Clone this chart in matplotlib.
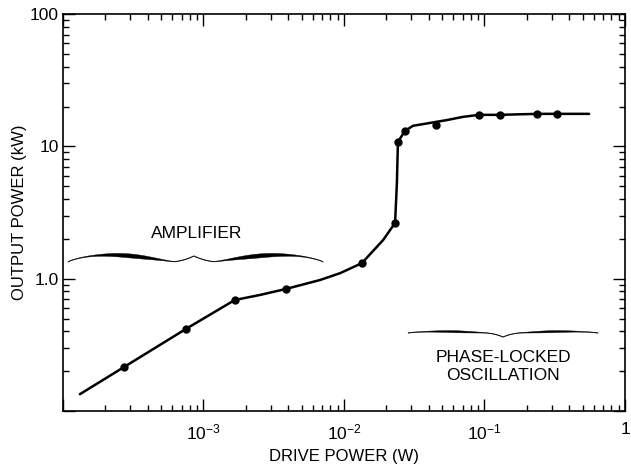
import numpy as np
import matplotlib.pyplot as plt
from matplotlib.ticker import FixedLocator, LogLocator, NullFormatter

plt.rcParams['font.family'] = ['Liberation Sans', 'DejaVu Sans']
plt.rcParams['mathtext.fontset'] = 'custom'
plt.rcParams['mathtext.rm'] = 'Liberation Sans'
plt.rcParams['mathtext.default'] = 'regular'

# measured points
drive_w = [2.72e-4, 7.5e-4, 1.67e-3, 3.86e-3, 0.0134, 0.0231, 0.0242,
           0.0272, 0.0452, 0.0914, 0.129, 0.237, 0.328]
output_kw = [0.215, 0.417, 0.690, 0.836, 1.31, 2.64, 10.8,
             13.1, 14.5, 17.3, 17.3, 17.6, 17.6]

# faired curve through the data
curve_w = [1.32e-4, 2.72e-4, 7.5e-4, 1.67e-3, 2.52e-3, 3.86e-3, 6.75e-3,
           9.37e-3, 0.0134, 0.0190, 0.0231, 0.0238, 0.0242, 0.0272, 0.0310,
           0.0541, 0.0703, 0.0914, 0.129, 0.237, 0.328, 0.555]
curve_kw = [0.134, 0.215, 0.417, 0.690, 0.753, 0.836, 0.977,
            1.10, 1.31, 1.96, 2.64, 5.29, 10.8, 13.1, 14.3,
            15.8, 16.7, 17.3, 17.3, 17.6, 17.6, 17.6]

x_ticks = [1e-4, 1e-3, 1e-2, 1e-1, 1]
x_labels = ['', '$10^{-3}$', '$10^{-2}$', '$10^{-1}$', '1']
y_ticks = [0.1, 1, 10, 100]
y_labels = ['', '1.0', '10', '100']

fig = plt.figure(figsize=(6.31, 4.67), dpi=100)
ax = fig.add_axes([0.0998, 0.1199, 0.8907, 0.8501])
ax_w = 6.31 * 100 * 0.8907
ax_h = 4.67 * 100 * 0.8501


def brace(x0, x1, xtip, y, hump, tip, wmax, wmin=0.6):
    # curly brace in axes fraction; hump, tip and widths in pixels
    s = np.linspace(0, 1, 200)
    q = np.clip(s / 0.85, 0, 1)
    c = hump * np.sin(np.pi * q ** 0.75) + tip * np.clip((s - 0.8) / 0.2, 0, 1) ** 2
    w = wmin + (wmax - wmin) * np.sin(np.pi * q ** 1.3) ** 2
    xl = x0 + s * (xtip - x0)
    xr = x1 + s * (xtip - x1)
    xs = np.concatenate([xl, xr[::-1]])
    cs = np.concatenate([c, c[::-1]]) / ax_h + y
    ws = np.concatenate([w, w[::-1]]) / ax_h
    px = np.concatenate([xs, xs[::-1]])
    py = np.concatenate([cs + ws / 2, (cs - ws / 2)[::-1]])
    ax.fill(px, py, color='black', lw=0.3, transform=ax.transAxes, clip_on=False)


ax.plot(curve_w, curve_kw, color='black', lw=1.8, solid_joinstyle='round',
        solid_capstyle='round')
ax.plot(drive_w, output_kw, 'o', color='black', ms=5)

ax.set_xscale('log')
ax.set_yscale('log')
ax.set_xlim(1e-4, 1)
ax.set_ylim(0.1, 100)

ax.xaxis.set_major_locator(FixedLocator(x_ticks))
ax.set_xticklabels(x_labels)
ax.yaxis.set_major_locator(FixedLocator(y_ticks))
ax.set_yticklabels(y_labels)
ax.xaxis.set_minor_locator(LogLocator(base=10, subs=np.arange(2, 10)))
ax.yaxis.set_minor_locator(LogLocator(base=10, subs=np.arange(2, 10)))
ax.xaxis.set_minor_formatter(NullFormatter())
ax.yaxis.set_minor_formatter(NullFormatter())

ax.tick_params(which='both', direction='in', top=True, right=True,
               width=1.0, color='black', labelsize=12.5)
ax.tick_params(which='major', length=8.5)
ax.tick_params(which='minor', length=4.3)
ax.tick_params(axis='x', pad=8)
ax.tick_params(axis='y', pad=3)
for sp in ax.spines.values():
    sp.set_linewidth(1.2)

ax.set_xlabel('DRIVE POWER (W)', fontsize=12)
ax.xaxis.set_label_coords(0.5, -0.095)
ax.set_ylabel('OUTPUT POWER (kW)', fontsize=12)
ax.yaxis.set_label_coords(-0.064, 0.5)

ax.text(0.238, 0.446, 'AMPLIFIER', transform=ax.transAxes,
        ha='center', va='center', fontsize=12.5)
brace(0.0089, 0.4626, 0.233, 0.3753, hump=7, tip=6, wmax=4.0)

ax.text(0.783, 0.112, 'PHASE-LOCKED\nOSCILLATION', transform=ax.transAxes,
        ha='center', va='center', fontsize=12.5, linespacing=1.2)
brace(0.614, 0.952, 0.783, 0.1965, hump=1.5, tip=-4, wmax=2.0)

fig.savefig('out.png', dpi=100, facecolor='white')
